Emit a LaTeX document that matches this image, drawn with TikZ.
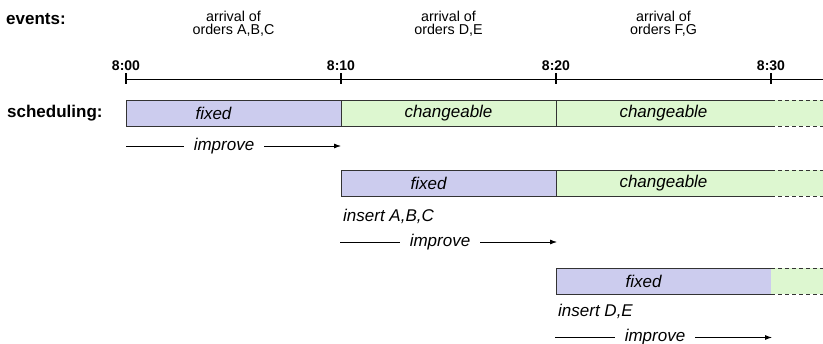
\documentclass[tikz,border=0pt]{standalone}
\usepackage{fontspec}
\setmainfont{Liberation Sans}
\usetikzlibrary{arrows.meta, positioning}
\definecolor{fixedblue}{RGB}{204,204,238}
\definecolor{changegreen}{RGB}{221,247,208}
\definecolor{boxline}{RGB}{51,51,51}
\tikzset{
  basebox/.style={draw=boxline, line width=0.9pt, minimum width=215pt, minimum height=26pt, inner sep=0pt, outer sep=0pt, font=\fontsize{17}{20}\selectfont\itshape},
  fixedbox/.style={basebox, fill=fixedblue},
  changebox/.style={basebox, fill=changegreen},
  rowlabel/.style={font=\fontsize{17}{20}\selectfont\bfseries, anchor=west, inner sep=0pt},
  timelabel/.style={font=\fontsize{14}{16}\selectfont\bfseries, inner sep=0pt},
  eventlabel/.style={font=\fontsize{14.3}{13}\selectfont, align=center, inner sep=0pt},
  steplabel/.style={font=\fontsize{17}{20}\selectfont\itshape, inner sep=0pt},
  improvelabel/.style={steplabel, fill=white, inner xsep=10pt},
  improvearrow/.style={line width=0.8pt, -{Latex[length=7pt, width=5pt]}}
}
\begin{document}
\begin{tikzpicture}[x=1pt, y=-1pt]
  \useasboundingbox (0,0) rectangle (823,344);
  % Labels
  \node[rowlabel] (events) at (6,19) {events:};
  \node[rowlabel] (sched) at (7,113) {scheduling:};
  % Events
  \node[eventlabel] (evA) at (233.5,24) {arrival of\\orders A,B,C};
  \node[eventlabel] (evD) at (448.5,24) {arrival of\\orders D,E};
  \node[eventlabel] (evF) at (663.5,24) {arrival of\\orders F,G};
  % Time axis
  \coordinate (axisend) at (823,79);
  \foreach \x/\t/\name in {126/8:00/t0, 341/8:10/t1, 556/8:20/t2, 771/8:30/t3} {
    \coordinate (\name) at (\x,79);
    \draw[line width=1.8pt] (\x,73.5) -- (\x,84.5);
    \node[timelabel] (\name lab) at (\x,65.5) {\t};
  }
  \draw[line width=0.9pt] (t0) -- (axisend);
  % Row 1
  \node[fixedbox, anchor=north west] (fixA) at (126,100) {fixed\hspace*{40pt}};
  \node[changebox, right=0pt of fixA] (chA1) {changeable};
  \node[changebox, right=0pt of chA1] (chA2) {changeable};
  \fill[changegreen] (chA2.north east) rectangle (823,126);
  \draw[boxline, line width=0.9pt, dashed, dash pattern=on 4pt off 3pt] (chA2.north east) -- (823,100) (chA2.south east) -- (823,126);
  \node[improvelabel] (impA) at (224,146) {improve};
  \coordinate (impAs) at (126,146);
  \coordinate (impAe) at (341,146);
  \draw[line width=0.8pt] (impAs) -- (impA.west);
  \draw[improvearrow] (impA.east) -- (impAe);
  % Row 2
  \node[fixedbox, anchor=north west] (fixB) at (341,170) {fixed\hspace*{40pt}};
  \node[changebox, right=0pt of fixB] (chB1) {changeable};
  \fill[changegreen] (chB1.north east) rectangle (823,196);
  \draw[boxline, line width=0.9pt, dashed, dash pattern=on 4pt off 3pt] (chB1.north east) -- (823,170) (chB1.south east) -- (823,196);
  \node[steplabel, anchor=west] (insB) at (343,216) {insert A,B,C};
  \node[improvelabel] (impB) at (440,242) {improve};
  \coordinate (impBs) at (340,242);
  \coordinate (impBe) at (557,242);
  \draw[line width=0.8pt] (impBs) -- (impB.west);
  \draw[improvearrow] (impB.east) -- (impBe);
  % Row 3
  \node[fixedbox, anchor=north west] (fixC) at (556,268) {fixed\hspace*{40pt}};
  \fill[changegreen] (fixC.north east) rectangle (823,294);
  \draw[boxline, line width=0.9pt, dashed, dash pattern=on 4pt off 3pt] (fixC.north east) -- (823,268) (fixC.south east) -- (823,294);
  \node[steplabel, anchor=west] (insC) at (558,311) {insert D,E};
  \node[improvelabel] (impC) at (655,337.5) {improve};
  \coordinate (impCs) at (555,337.5);
  \coordinate (impCe) at (772,337.5);
  \draw[line width=0.8pt] (impCs) -- (impC.west);
  \draw[improvearrow] (impC.east) -- (impCe);
\end{tikzpicture}
\end{document}
